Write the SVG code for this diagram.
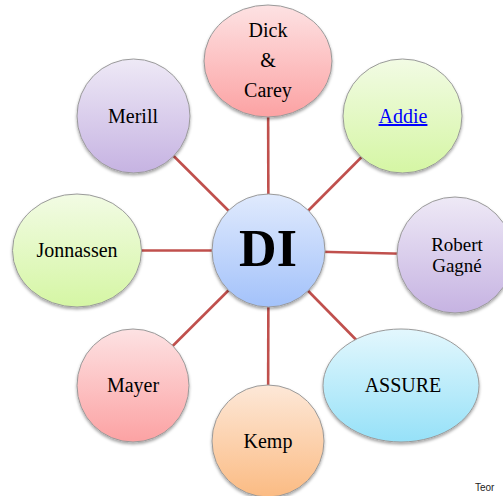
<svg xmlns="http://www.w3.org/2000/svg" width="503" height="496" viewBox="0 0 503 496">
<style>
.node{stroke:#9a9a9a;stroke-width:1;filter:url(#sh)}
.lbl{font-family:"Liberation Serif","Times New Roman",serif;font-size:20px;fill:#000;text-anchor:middle}
.conn line{stroke:#C0504D;stroke-width:2.6}
</style>
<defs>
<filter id="sh" x="-20%" y="-20%" width="140%" height="150%">
<feDropShadow dx="0" dy="2" stdDeviation="1.6" flood-color="#000" flood-opacity="0.35"/>
</filter>
<linearGradient id="gPink" x1="0" y1="0" x2="0" y2="1"><stop offset="0" stop-color="#fde2e3"/><stop offset="1" stop-color="#fca2a3"/></linearGradient>
<linearGradient id="gGreen" x1="0" y1="0" x2="0" y2="1"><stop offset="0" stop-color="#f2fbe4"/><stop offset="1" stop-color="#d5f6a4"/></linearGradient>
<linearGradient id="gPurple" x1="0" y1="0" x2="0" y2="1"><stop offset="0" stop-color="#eee9f6"/><stop offset="1" stop-color="#c6b3e2"/></linearGradient>
<linearGradient id="gBlue" x1="0" y1="0" x2="0" y2="1"><stop offset="0" stop-color="#e0eafd"/><stop offset="1" stop-color="#a3c2fa"/></linearGradient>
<linearGradient id="gCyan" x1="0" y1="0" x2="0" y2="1"><stop offset="0" stop-color="#e3f7fd"/><stop offset="1" stop-color="#96e1f8"/></linearGradient>
<linearGradient id="gOrange" x1="0" y1="0" x2="0" y2="1"><stop offset="0" stop-color="#fde8d8"/><stop offset="1" stop-color="#fbbb83"/></linearGradient>
</defs>
<rect width="503" height="496" fill="#fff"/>
<g id="connectors" class="conn">
<line x1="268.5" y1="250.5" x2="268" y2="61"/>
<line x1="268.5" y1="250.5" x2="402.5" y2="116"/>
<line x1="268.5" y1="250.5" x2="455" y2="255"/>
<line x1="268.5" y1="250.5" x2="401" y2="385.5"/>
<line x1="268.5" y1="250.5" x2="268" y2="441"/>
<line x1="268.5" y1="250.5" x2="133" y2="385.5"/>
<line x1="268.5" y1="250.5" x2="77" y2="250.5"/>
<line x1="268.5" y1="250.5" x2="133.5" y2="116"/>
</g>
<g id="dick-carey">
<ellipse class="node" cx="268" cy="61" rx="64" ry="56" fill="url(#gPink)"/>
<text class="lbl" x="268" y="37">Dick</text>
<text class="lbl" x="268" y="67">&amp;</text>
<text class="lbl" x="268" y="97">Carey</text>
</g>
<g id="addie">
<ellipse class="node" cx="402.5" cy="116" rx="59.5" ry="57" fill="url(#gGreen)"/>
<text class="lbl" x="403" y="123" style="fill:#0000ff" text-decoration="underline">Addie</text>
</g>
<g id="gagne">
<ellipse class="node" cx="455" cy="255" rx="58" ry="58" fill="url(#gPurple)"/>
<text class="lbl" x="457" y="251" style="font-size:19px">Robert</text>
<text class="lbl" x="457" y="272" style="font-size:19px">Gagné</text>
</g>
<g id="assure">
<ellipse class="node" cx="401" cy="385.5" rx="78" ry="56.5" fill="url(#gCyan)"/>
<text class="lbl" x="403" y="392">ASSURE</text>
</g>
<g id="kemp">
<ellipse class="node" cx="268" cy="441" rx="56" ry="56" fill="url(#gOrange)"/>
<text class="lbl" x="268" y="448">Kemp</text>
</g>
<g id="mayer">
<ellipse class="node" cx="133" cy="385.5" rx="56" ry="56.5" fill="url(#gPink)"/>
<text class="lbl" x="133" y="392">Mayer</text>
</g>
<g id="jonnassen">
<ellipse class="node" cx="77" cy="250.5" rx="64.5" ry="56.5" fill="url(#gGreen)"/>
<text class="lbl" x="77" y="257">Jonnassen</text>
</g>
<g id="merill">
<ellipse class="node" cx="133.5" cy="116" rx="56.5" ry="57" fill="url(#gPurple)"/>
<text class="lbl" x="133" y="123">Merill</text>
</g>
<g id="di">
<ellipse class="node" cx="268.5" cy="250.5" rx="56.5" ry="56.5" fill="url(#gBlue)"/>
<text x="268" y="266" font-family="Liberation Serif, Times New Roman, serif" font-size="52" font-weight="bold" text-anchor="middle" fill="#000">DI</text>
</g>
<text x="475" y="491" font-family="Liberation Sans, Arial, sans-serif" font-size="10" fill="#222">Teor</text>
</svg>
